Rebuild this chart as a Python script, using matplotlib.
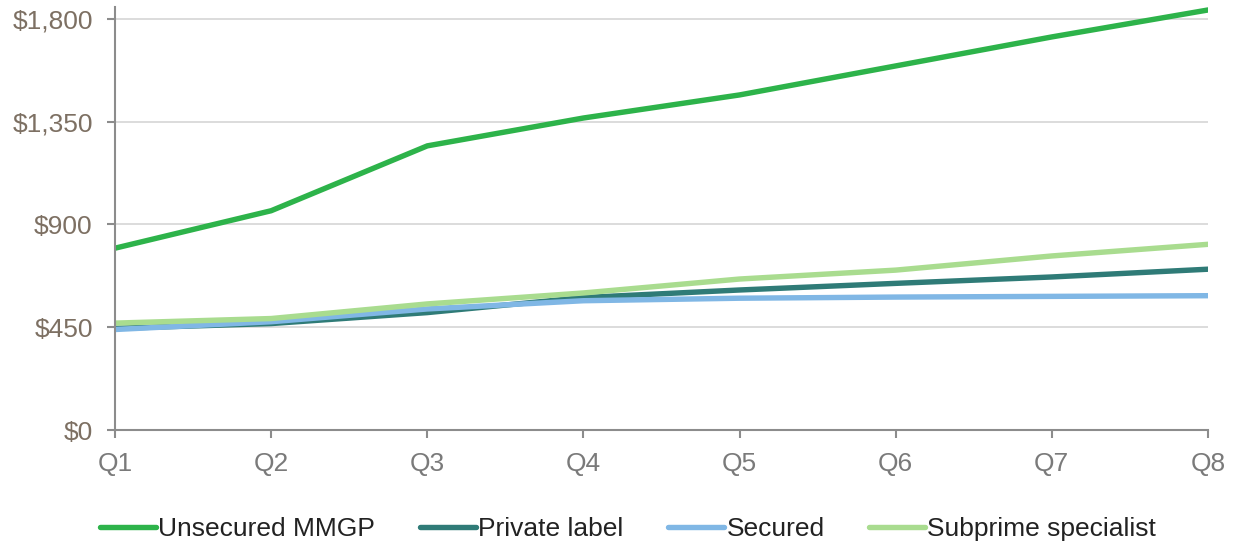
import matplotlib
matplotlib.use("Agg")
import matplotlib.pyplot as plt
from matplotlib.ticker import FuncFormatter

quarters = ["Q1", "Q2", "Q3", "Q4", "Q5", "Q6", "Q7", "Q8"]
unsecured_mmgp = [796, 960, 1244, 1366, 1467, 1594, 1721, 1839]
private_label = [445, 466, 514, 580, 613, 642, 670, 704]
secured = [440, 474, 530, 566, 577, 582, 585, 588]
subprime_specialist = [468, 488, 552, 600, 661, 700, 762, 813]
y_ticks = [0, 450, 900, 1350, 1800]

series = [
    ("Unsecured MMGP", unsecured_mmgp, "#2db34a"),
    ("Private label", private_label, "#2f7b77"),
    ("Secured", secured, "#80b7e5"),
    ("Subprime specialist", subprime_specialist, "#a9dc8f"),
]

plt.rcParams["font.family"] = ["Liberation Sans", "DejaVu Sans"]
y_text_color = "#7d7063"
x_text_color = "#7a7a7a"
axis_color = "#8c8c8c"

fig = plt.figure(figsize=(12.37, 5.44), dpi=100)
ax = fig.add_axes([115 / 1237, 1 - 430 / 544, (1208 - 115) / 1237, (430 - 7) / 544])

x = list(range(len(quarters)))
for name, vals, color in series:
    ax.plot(x, vals, color=color, lw=3.9, solid_capstyle="round",
            solid_joinstyle="round", label=name)

ax.set_xlim(0, len(quarters) - 1)
ax.set_ylim(0, 1852)
ax.set_xticks(x)
ax.set_xticklabels(quarters)
ax.set_yticks(y_ticks)
ax.yaxis.set_major_formatter(FuncFormatter(lambda v, p: f"${v:,.0f}"))

ax.grid(axis="y", color="#d9d9d9", lw=1.3)
ax.set_axisbelow(True)
for s in ["top", "right"]:
    ax.spines[s].set_visible(False)
for s in ["left", "bottom"]:
    ax.spines[s].set_color(axis_color)
    ax.spines[s].set_linewidth(1.5)

ax.tick_params(axis="both", colors=axis_color, length=6, width=1.5, labelsize=19)
ax.tick_params(axis="x", pad=10, labelcolor=x_text_color)
ax.tick_params(axis="y", pad=10, labelcolor=y_text_color)

leg = fig.legend(loc="lower center", bbox_to_anchor=(0.508, -0.038), ncol=4,
                 frameon=False, fontsize=19, handlelength=2.1,
                 handletextpad=0.1, columnspacing=1.7)
for line in leg.get_lines():
    line.set_linewidth(3.9)
for t in leg.get_texts():
    t.set_color("#222222")

fig.savefig("out.png", dpi=100)
